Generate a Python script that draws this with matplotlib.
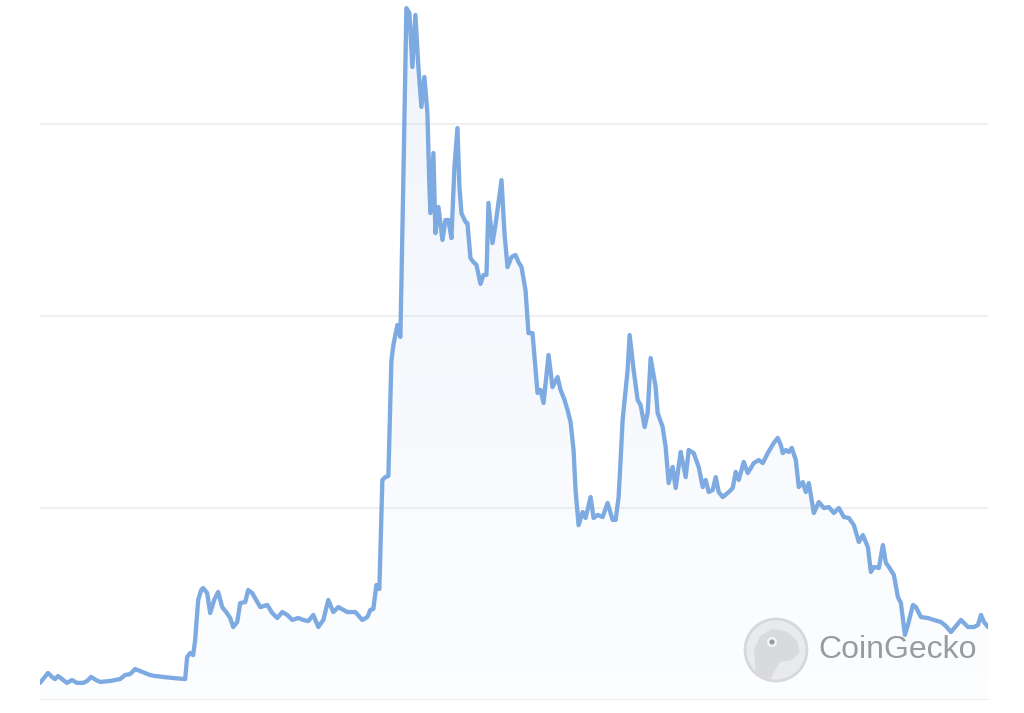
import numpy as np
import matplotlib
matplotlib.use("Agg")
import matplotlib.pyplot as plt
from matplotlib.patches import Circle, Ellipse, Polygon

# ── Data (days since start, price in arbitrary units) ────────────────────────

days = [
    0, 4, 8, 12, 15, 18, 22, 27, 32, 37, 43, 47, 51, 56, 60, 70, 80, 85, 90, 95,
    100, 110, 115, 123, 132, 145, 147, 150, 153, 155, 158, 161, 163, 167, 170, 174,
    178, 182, 186, 190, 193, 197, 200, 205, 208, 212, 216, 220, 227, 232, 237, 242,
    247, 252, 258, 263, 268, 273, 278, 283, 288, 293, 298, 307, 315, 322, 327, 330,
    333, 336, 339, 342, 345, 348, 351, 353, 357, 360, 363, 366, 369, 372, 375, 378,
    381, 384, 387, 389, 390, 393, 395, 398, 402, 405, 408, 411, 414, 417, 419, 421,
    425, 427, 430, 433, 436, 440, 443, 446, 448, 452, 455, 461, 464, 467, 471, 475,
    478, 481, 485, 488, 492, 497, 500, 503, 508, 512, 517, 520, 524, 527, 530, 533,
    535, 538, 542, 545, 550, 553, 557, 562, 567, 572, 575, 578, 580, 582, 587, 589,
    593, 597, 600, 604, 607, 610, 615, 617, 622, 625, 628, 632, 635, 640, 645, 648,
    653, 658, 662, 665, 668, 672, 675, 678, 682, 688, 692, 695, 698, 703, 707, 713,
    718, 722, 727, 733, 737, 740, 742, 745, 748, 751, 755, 758, 762, 765, 768, 773,
    778, 783, 788, 793, 798, 803, 808, 813, 818, 822, 827, 830, 833, 838, 842, 845,
    848, 853, 857, 860, 864, 867, 872, 875, 880, 887, 893, 900, 905, 910, 915, 920,
    927, 933, 937, 940, 943, 947,
]

price = [
    8.9, 11.5, 14.1, 12.0, 10.9, 12.5, 10.9, 8.9, 10.4, 8.9, 8.9, 9.9, 12.0, 10.4,
    9.4, 9.9, 10.9, 13.0, 13.5, 16.1, 15.1, 13.0, 12.5, 12.0, 11.5, 10.9, 22.4,
    24.5, 23.4, 31.3, 52.1, 57.3, 58.3, 55.7, 45.3, 52.1, 56.3, 48.4, 45.8, 42.7,
    38.0, 40.6, 50.5, 51.0, 57.3, 55.7, 52.1, 48.4, 49.5, 45.3, 42.7, 45.8, 44.3,
    41.7, 42.7, 41.7, 41.1, 44.3, 38.0, 41.7, 52.1, 45.8, 48.4, 45.8, 45.8, 41.7,
    43.2, 46.9, 47.4, 59.9, 57.8, 114.6, 116.1, 116.7, 176.6, 184.9, 195.3, 189.1,
    271.9, 360.4, 357.8, 329.7, 356.8, 329.7, 308.9, 324.5, 305.7, 267.2, 253.6,
    284.9, 243.2, 256.8, 239.6, 250.0, 250.0, 240.6, 277.6, 297.9, 267.2, 253.6,
    249.0, 248.4, 230.2, 228.1, 226.6, 216.7, 221.4, 221.4, 258.9, 238.0, 247.4,
    270.8, 243.2, 225.5, 230.7, 231.8, 228.1, 225.5, 213.5, 191.1, 191.1, 159.9,
    161.5, 154.7, 179.7, 163.0, 168.2, 161.5, 156.3, 151.0, 144.8, 130.2, 109.4,
    91.1, 97.9, 94.8, 105.7, 94.8, 96.4, 95.3, 102.6, 93.8, 93.8, 105.7, 125.0,
    145.8, 171.9, 190.1, 171.9, 156.3, 153.6, 142.2, 149.5, 178.1, 163.0, 149.5,
    142.2, 131.8, 113.0, 121.4, 110.4, 129.2, 116.1, 130.2, 128.6, 121.4, 110.9,
    114.6, 108.3, 109.4, 116.1, 108.3, 105.7, 108.3, 110.4, 118.8, 114.6, 124.0,
    118.2, 123.4, 125.0, 123.4, 128.6, 133.9, 136.5, 132.8, 128.6, 130.2, 129.2,
    131.3, 125.0, 110.9, 113.5, 108.3, 113.0, 97.4, 103.1, 100.0, 100.5, 97.4,
    100.0, 95.3, 94.8, 91.1, 82.3, 85.9, 79.7, 66.7, 69.3, 68.8, 80.7, 71.4, 69.3,
    65.1, 53.6, 50.5, 33.9, 39.1, 49.5, 48.4, 43.2, 42.7, 41.7, 40.6, 38.5, 35.4,
    38.5, 41.7, 38.0, 38.0, 39.1, 44.3, 40.6, 38.0,
]

grid_levels = [0, 100, 200, 300]

LINE_COLOR = "#7eaae2"
GRID_COLOR = "#ededed"

# ── Figure ────────────────────────────────────────────────────────────────────

fig = plt.figure(figsize=(10.24, 7.13), dpi=100)
ax = fig.add_axes([40 / 1024, 13 / 713, 948 / 1024, 700 / 713])
ax.set_xlim(days[0], days[-1])
ax.set_ylim(0, 364.6)
ax.set_facecolor("none")
for s in ax.spines.values():
    s.set_visible(False)
ax.set_xticks([])
ax.set_yticks([])

for g in grid_levels:
    ax.axhline(g, color=GRID_COLOR, linewidth=1.2, zorder=0)

# gradient fill under the line
verts = [(days[0], 0)] + list(zip(days, price)) + [(days[-1], 0)]
clip = Polygon(verts, closed=True, facecolor="none", edgecolor="none")
ax.add_patch(clip)
grad = np.linspace(0.0, 1.0, 256).reshape(-1, 1)
rgba = np.zeros((256, 1, 4))
rgba[..., 0] = 0.49
rgba[..., 1] = 0.66
rgba[..., 2] = 0.88
rgba[..., 3] = 0.02 + 0.10 * grad
img = ax.imshow(rgba, extent=[days[0], days[-1], 0, 364.6], origin="lower",
                aspect="auto", zorder=1)
img.set_clip_path(clip)

ax.plot(days, price, color=LINE_COLOR, linewidth=3.1, solid_joinstyle="round",
        solid_capstyle="round", zorder=3)

# ── CoinGecko watermark ───────────────────────────────────────────────────────

wax = fig.add_axes([0, 0, 1, 1], zorder=-1)
wax.set_xlim(0, 1024)
wax.set_ylim(713, 0)
wax.axis("off")
wax.add_patch(Circle((776, 650), 31, facecolor="#ececec", edgecolor="#d9d9d9",
                     linewidth=2))
head = Polygon([(756, 676), (754, 650), (760, 636), (772, 629), (786, 631),
                (797, 641), (800, 652), (792, 660), (780, 662), (774, 672),
                (770, 680)], closed=True, facecolor="#dcdcdc", edgecolor="none")
wax.add_patch(head)
wax.add_patch(Ellipse((772, 642), 10, 10, facecolor="#f7f7f7", edgecolor="none"))
wax.add_patch(Circle((772, 642), 2.6, facecolor="#9a9a9a", edgecolor="none"))
wax.text(818, 650, "CoinGecko", fontsize=23, color="#9b9b9b",
         family="Liberation Sans", va="center", ha="left")

fig.savefig("out.png", dpi=100)
